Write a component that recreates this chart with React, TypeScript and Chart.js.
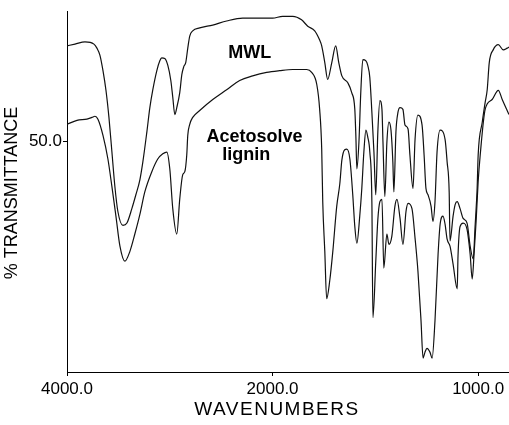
import React, { useEffect, useRef } from 'react';
import { Chart, LineController, LineElement, PointElement, LinearScale } from 'chart.js';

// ---- data ----
const X_TICKS = [4000, 2000, 1000];
const Y_TICKS = [50];

const MWL_WN = [4000,3922,3825,3738,3709,3680,3650,3621,3592,3563,
  3534,3505,3456,3417,3369,3330,3291,3262,3223,3194,
  3165,3126,3097,3078,3049,3019,2990,2971,2951,2932,
  2903,2883,2864,2845,2825,2806,2777,2709,2582,2447,
  2291,2126,2000,1951,1902,1859,1829,1795,1771,1761,
  1746,1732,1712,1693,1678,1663,1634,1615,1600,1595,
  1590,1580,1571,1561,1546,1537,1527,1517,1507,1498,
  1488,1478,1468,1463,1454,1444,1434,1424,1415,1410,
  1400,1390,1380,1366,1356,1341,1332,1317,1307,1293,
  1273,1263,1254,1244,1229,1220,1210,1200,1185,1161,
  1151,1141,1137,1122,1112,1102,1088,1073,1054,1039,
  1024,1015,1005,1000,980,966,956,946,927,902,
  878,859,850];
const MWL_T = [66.5,66.8,67.2,66.8,66.1,64.9,62.2,58.8,54.1,48.1,
  42.1,37.8,35.4,35.8,38.3,40.7,43.3,46.4,51.6,55.8,
  58.9,62.2,63.9,64.4,64.3,63.1,60.5,57.6,54.6,55.8,
  58.4,61.5,62.9,63.6,66.1,68.2,69.1,69.6,70.1,70.8,
  71.3,71.3,71.3,71.6,71.6,71.0,69.9,69.1,67.5,66.5,
  63.6,60.7,63.6,66.5,63.6,61.3,60.1,58.4,55.5,51.0,
  45.2,49.8,58.4,64.1,63.9,63.1,61.0,55.0,48.1,40.7,
  51.6,57.0,55.5,49.8,40.4,49.8,53.3,51.9,46.4,41.2,
  51.6,55.0,55.8,55.5,52.8,52.1,47.6,41.8,50.3,54.5,
  52.8,47.6,41.8,40.7,38.7,36.1,39.5,48.1,51.9,50.3,
  46.4,41.2,32.7,37.0,39.0,39.5,38.3,36.6,35.8,31.8,
  29.6,35.2,41.8,47.6,53.3,56.7,58.9,63.6,65.8,66.7,
  65.8,66.1,66.3];

const ACE_WN = [4000,3903,3806,3757,3728,3699,3650,3602,3563,3524,
  3485,3437,3388,3340,3291,3243,3175,3117,3068,3029,
  3000,2971,2932,2903,2874,2854,2835,2825,2806,2777,
  2709,2582,2447,2320,2194,2058,1966,1902,1834,1810,
  1785,1771,1761,1756,1746,1737,1722,1707,1688,1673,
  1663,1649,1639,1624,1610,1600,1590,1576,1566,1556,
  1546,1537,1527,1517,1512,1498,1488,1478,1468,1459,
  1444,1434,1420,1405,1395,1380,1366,1351,1341,1322,
  1307,1293,1278,1268,1259,1249,1234,1224,1210,1195,
  1185,1171,1161,1151,1137,1122,1102,1098,1088,1073,
  1054,1039,1029,1020,1010,1000,990,966,932,902,
  883,859,850];
const ACE_T = [52.9,53.6,53.8,54.1,54.3,53.8,51.0,46.9,42.1,37.0,
  31.8,29.2,30.9,33.9,37.3,41.2,44.7,46.9,47.8,48.1,
  45.2,38.3,33.9,40.0,44.2,44.7,47.6,51.0,52.9,54.1,
  55.3,57.2,58.9,60.5,61.3,61.9,62.2,62.4,62.4,61.9,
  59.8,55.5,48.6,39.5,30.9,22.7,25.8,30.9,38.7,42.6,
  46.7,48.5,48.6,46.9,40.7,35.2,32.3,37.0,41.8,48.1,
  51.9,50.7,48.1,39.5,19.4,29.2,36.4,39.5,39.9,28.0,
  33.9,32.1,33.5,38.7,39.9,36.6,32.1,37.8,39.2,38.3,
  33.2,27.5,18.9,12.4,13.4,14.1,13.4,12.4,18.9,30.4,
  35.6,37.0,35.6,33.0,31.8,28.7,24.4,30.1,35.2,35.8,
  34.7,30.4,26.1,30.4,36.1,43.0,47.6,55.5,57.2,58.8,
  57.2,55.3,54.6];

const SERIES_NAMES = ['MWL', 'Acetosolve lignin'];
const X_TITLE = 'WAVENUMBERS';
const Y_TITLE = '% TRANSMITTANCE';

// ---- layout / style ----
const WN_MIN = 850;
const WN_MAX = 4000;
const WN_BREAK = 2000;
const T_MIN = 10;
const T_MAX = 72.5;
const FONT = '"Liberation Sans", Arial, Helvetica, sans-serif';
const LABELS = [
  { text: 'MWL', wn: 2223, t: 64.4 },
  { text: 'Acetosolve', wn: 2175, t: 49.8 },
  { text: 'lignin', wn: 2257, t: 46.7 },
];

function compress(w: number) {
  return w <= WN_BREAK ? w : WN_BREAK + (w - WN_BREAK) / 2;
}
function expand(t: number) {
  return t <= WN_BREAK ? t : WN_BREAK + (t - WN_BREAK) * 2;
}

class WavenumberScale extends LinearScale {
  static id = 'wavenumber';
  static defaults = LinearScale.defaults;
  getPixelForValue(value: number) {
    const a = compress(this.max);
    const b = compress(this.min);
    const frac = (a - compress(value)) / (a - b);
    return this.left + frac * this.width;
  }
  getValueForPixel(pixel: number) {
    const a = compress(this.max);
    const b = compress(this.min);
    const frac = (pixel - this.left) / this.width;
    return expand(a - frac * (a - b));
  }
}

Chart.register(LineController, LineElement, PointElement, LinearScale, WavenumberScale as any);

const textPlugin = {
  id: 'spectrumText',
  afterDraw(chart: any) {
    const ctx = chart.ctx as CanvasRenderingContext2D;
    const xs = chart.scales.x;
    const ys = chart.scales.y;
    ctx.save();
    ctx.fillStyle = '#000';
    ctx.font = `bold 18px ${FONT}`;
    ctx.textAlign = 'center';
    ctx.textBaseline = 'alphabetic';
    LABELS.forEach((l) => {
      ctx.fillText(l.text, xs.getPixelForValue(l.wn), ys.getPixelForValue(l.t));
    });
    ctx.font = `19px ${FONT}`;
    (ctx as any).letterSpacing = '1.5px';
    ctx.textBaseline = 'middle';
    ctx.fillText(X_TITLE, 277, 410);
    ctx.translate(12, 193);
    ctx.rotate(-Math.PI / 2);
    (ctx as any).letterSpacing = '0px';
    ctx.font = `18px ${FONT}`;
    ctx.fillText(Y_TITLE, 0, 0);
    ctx.restore();
  },
};

export default function App() {
  const ref = useRef<HTMLCanvasElement | null>(null);
  useEffect(() => {
    if (!ref.current) return;
    const tickFont = { family: FONT, size: 17 };
    const chart = new Chart(ref.current, {
      type: 'line',
      data: {
        datasets: [
          {
            label: SERIES_NAMES[0],
            data: MWL_WN.map((w, i) => ({ x: w, y: MWL_T[i] })),
            borderColor: '#111',
            borderWidth: 1.2,
            pointRadius: 0,
            cubicInterpolationMode: 'monotone',
            fill: false,
          },
          {
            label: SERIES_NAMES[1],
            data: ACE_WN.map((w, i) => ({ x: w, y: ACE_T[i] })),
            borderColor: '#111',
            borderWidth: 1.2,
            pointRadius: 0,
            cubicInterpolationMode: 'monotone',
            fill: false,
          },
        ],
      },
      options: {
        animation: false,
        responsive: false,
        devicePixelRatio: 1,
        parsing: true,
        layout: { padding: { top: 8, right: 0, left: 0, bottom: 0 } },
        plugins: { legend: { display: false }, tooltip: { enabled: false } },
        events: [],
        scales: {
          x: {
            type: 'wavenumber' as any,
            min: WN_MIN,
            max: WN_MAX,
            afterBuildTicks: (s: any) => {
              s.ticks = X_TICKS.map((v) => ({ value: v }));
            },
            afterFit: (s: any) => {
              s.height = 53;
            },
            ticks: {
              autoSkip: false,
              maxRotation: 0,
              minRotation: 0,
              color: '#000',
              font: tickFont,
              padding: 3,
              callback: (v: any) => Number(v).toFixed(1),
            },
            grid: { drawOnChartArea: false, drawTicks: true, tickLength: 4, color: '#000', lineWidth: 1 },
            border: { display: true, color: '#000', width: 1 },
          },
          y: {
            type: 'linear',
            min: T_MIN,
            max: T_MAX,
            afterBuildTicks: (s: any) => {
              s.ticks = Y_TICKS.map((v) => ({ value: v }));
            },
            afterFit: (s: any) => {
              s.width = 67;
            },
            ticks: {
              autoSkip: false,
              color: '#000',
              font: tickFont,
              padding: 1,
              callback: (v: any) => Number(v).toFixed(1),
            },
            grid: { drawOnChartArea: false, drawTicks: true, tickLength: 4, color: '#000', lineWidth: 1 },
            border: { display: true, color: '#000', width: 1 },
          },
        },
      },
      plugins: [textPlugin],
    } as any);
    return () => chart.destroy();
  }, []);
  return (
    <div style={{ position: 'absolute', left: 0, top: 0, width: 509, height: 425, background: '#fff' }}>
      <canvas ref={ref} width={509} height={425} style={{ display: 'block' }} />
    </div>
  );
}
